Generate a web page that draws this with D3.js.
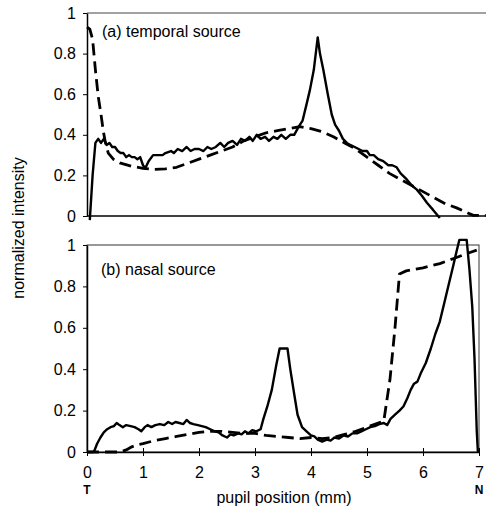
<!DOCTYPE html>
<html>
<head>
<meta charset="utf-8">
<script src="https://cdn.jsdelivr.net/npm/d3@7"></script>
<style>
  body { margin: 0; background: #fff; }
  text { font-family: "Liberation Sans", Arial, sans-serif; fill: #000; }
</style>
</head>
<body>
<svg id="chart" width="486" height="510"></svg>
<script>
// pupil position (mm), normalized intensity pairs
const topSolid = [
  [0.05, -0.02], [0.1, 0.2], [0.15, 0.36], [0.2, 0.38], [0.25, 0.36], [0.3, 0.38], [0.35, 0.35],
  [0.4, 0.36], [0.45, 0.34], [0.5, 0.34], [0.55, 0.32], [0.6, 0.31], [0.65, 0.31], [0.7, 0.29],
  [0.75, 0.3], [0.8, 0.29], [0.85, 0.29], [0.9, 0.28], [0.95, 0.29], [1.0, 0.25], [1.04, 0.235],
  [1.1, 0.27], [1.18, 0.3], [1.25, 0.3], [1.35, 0.3], [1.4, 0.31], [1.5, 0.32], [1.55, 0.31],
  [1.62, 0.33], [1.7, 0.32], [1.78, 0.34], [1.85, 0.32], [1.92, 0.33], [2.0, 0.33], [2.08, 0.32],
  [2.15, 0.34], [2.22, 0.33], [2.3, 0.34], [2.38, 0.36], [2.45, 0.34], [2.52, 0.36], [2.6, 0.37],
  [2.68, 0.35], [2.75, 0.38], [2.82, 0.37], [2.9, 0.39], [2.96, 0.37], [3.03, 0.4], [3.1, 0.38],
  [3.18, 0.39], [3.25, 0.37], [3.33, 0.39], [3.4, 0.38], [3.47, 0.4], [3.55, 0.38], [3.63, 0.4],
  [3.7, 0.4], [3.78, 0.44], [3.85, 0.47], [3.92, 0.55], [3.98, 0.62], [4.05, 0.72], [4.12, 0.88],
  [4.16, 0.8], [4.22, 0.72], [4.3, 0.6], [4.37, 0.5], [4.43, 0.45], [4.5, 0.42], [4.57, 0.38],
  [4.64, 0.36], [4.7, 0.35], [4.78, 0.34], [4.85, 0.33], [4.92, 0.32], [5.0, 0.32], [5.05, 0.3],
  [5.12, 0.3], [5.2, 0.28], [5.29, 0.27], [5.38, 0.25], [5.45, 0.25], [5.53, 0.24], [5.6, 0.21],
  [5.71, 0.18], [5.8, 0.15], [5.89, 0.13], [5.98, 0.1], [6.07, 0.065], [6.18, 0.03], [6.3, -0.01]
];
const topDashed = [
  [0, 0.93], [0.05, 0.92], [0.1, 0.87], [0.15, 0.72], [0.2, 0.59], [0.25, 0.5], [0.29, 0.42],
  [0.33, 0.36], [0.38, 0.31], [0.47, 0.28], [0.6, 0.26], [0.8, 0.245], [1.0, 0.235], [1.2, 0.23],
  [1.4, 0.232], [1.6, 0.24], [1.8, 0.26], [2.0, 0.28], [2.2, 0.3], [2.4, 0.32], [2.6, 0.34],
  [2.8, 0.37], [3.0, 0.39], [3.2, 0.41], [3.4, 0.42], [3.6, 0.43], [3.8, 0.44], [4.0, 0.43],
  [4.2, 0.415], [4.4, 0.39], [4.6, 0.36], [4.8, 0.33], [5.0, 0.29], [5.2, 0.25], [5.4, 0.21],
  [5.6, 0.18], [5.8, 0.15], [6.0, 0.12], [6.2, 0.09], [6.4, 0.06], [6.6, 0.04], [6.8, 0.015],
  [6.9, 0.003], [7.12, 0.003]
];
const bottomSolid = [
  [0, 0], [0.1, 0], [0.13, 0.005], [0.18, 0.04], [0.24, 0.07], [0.3, 0.095], [0.36, 0.11],
  [0.42, 0.12], [0.48, 0.125], [0.53, 0.14], [0.58, 0.13], [0.64, 0.12], [0.7, 0.13], [0.78, 0.125],
  [0.85, 0.12], [0.92, 0.11], [0.97, 0.1], [1.03, 0.12], [1.08, 0.13], [1.15, 0.12], [1.22, 0.13],
  [1.3, 0.135], [1.38, 0.13], [1.45, 0.145], [1.52, 0.135], [1.58, 0.145], [1.65, 0.14],
  [1.72, 0.135], [1.78, 0.155], [1.84, 0.14], [1.9, 0.135], [1.98, 0.13], [2.05, 0.125],
  [2.12, 0.12], [2.2, 0.11], [2.28, 0.1], [2.35, 0.095], [2.42, 0.08], [2.5, 0.07], [2.56, 0.085],
  [2.62, 0.08], [2.7, 0.09], [2.76, 0.085], [2.82, 0.1], [2.88, 0.09], [2.95, 0.105], [3.02, 0.1],
  [3.1, 0.11], [3.15, 0.16], [3.22, 0.22], [3.3, 0.3], [3.38, 0.42], [3.44, 0.5], [3.58, 0.5],
  [3.63, 0.4], [3.7, 0.28], [3.76, 0.18], [3.84, 0.12], [3.92, 0.1], [4.0, 0.08], [4.06, 0.075],
  [4.12, 0.06], [4.2, 0.05], [4.28, 0.06], [4.35, 0.055], [4.42, 0.07], [4.5, 0.065], [4.58, 0.08],
  [4.66, 0.075], [4.74, 0.09], [4.82, 0.09], [4.9, 0.1], [4.98, 0.11], [5.06, 0.12], [5.14, 0.125],
  [5.22, 0.135], [5.3, 0.14], [5.36, 0.13], [5.42, 0.16], [5.5, 0.18], [5.58, 0.2], [5.65, 0.22],
  [5.72, 0.26], [5.78, 0.3], [5.84, 0.33], [5.9, 0.34], [5.96, 0.38], [6.05, 0.43], [6.14, 0.5],
  [6.22, 0.57], [6.3, 0.63], [6.38, 0.72], [6.46, 0.81], [6.54, 0.9], [6.6, 0.97], [6.65, 1.025],
  [6.78, 1.025], [6.83, 0.88], [6.88, 0.7], [6.92, 0.45], [6.96, 0.1], [6.98, 0]
];
const bottomDashed = [
  [0, 0], [0.6, 0], [0.7, 0.01], [0.8, 0.025], [0.9, 0.035], [1.0, 0.04], [1.2, 0.055],
  [1.4, 0.065], [1.6, 0.075], [1.8, 0.085], [2.0, 0.095], [2.2, 0.1], [2.4, 0.1], [2.6, 0.095],
  [2.8, 0.09], [3.0, 0.09], [3.2, 0.08], [3.4, 0.075], [3.6, 0.07], [3.8, 0.065], [4.0, 0.07],
  [4.2, 0.065], [4.4, 0.07], [4.6, 0.085], [4.8, 0.1], [5.0, 0.12], [5.2, 0.14], [5.3, 0.15],
  [5.41, 0.35], [5.5, 0.6], [5.58, 0.86], [5.7, 0.875], [6.0, 0.89], [6.3, 0.91], [6.55, 0.935],
  [6.8, 0.96], [6.96, 0.975]
];
const xTicks = [0, 1, 2, 3, 4, 5, 6, 7];
const yTicks = [0, 0.2, 0.4, 0.6, 0.8, 1];
const panelLabels = ['(a) temporal source', '(b) nasal source'];
const endLabels = ['T', 'N'];

const svg = d3.select('#chart');

// shared x scale, one y scale per panel
const x = d3.scaleLinear().domain([0, 7]).range([87, 479]);
const yTop = d3.scaleLinear().domain([0, 1]).range([216, 13]);
const yBottom = d3.scaleLinear().domain([0, 1]).range([452, 245]);

const yAxis = y => d3.axisLeft(y)
  .tickValues(yTicks)
  .tickFormat(d => String(d))
  .tickSizeInner(4)
  .tickSizeOuter(0)
  .tickPadding(7);

function styleAxis(g) {
  g.select('.domain').attr('stroke', '#000').attr('stroke-width', 1.5);
  g.selectAll('.tick line').attr('stroke', '#000').attr('stroke-width', 1);
  g.selectAll('.tick text').style('font-size', '16px').attr('fill', '#000');
}

// ---- top panel
svg.append('line')
  .attr('x1', x(0)).attr('x2', 486)
  .attr('y1', yTop(1)).attr('y2', yTop(1))
  .attr('stroke', '#444').attr('stroke-width', 1);
svg.append('line')
  .attr('x1', x(0)).attr('x2', 486)
  .attr('y1', yTop(0)).attr('y2', yTop(0))
  .attr('stroke', '#000').attr('stroke-width', 1.5);
svg.append('g')
  .attr('transform', `translate(${x(0)},0)`)
  .call(yAxis(yTop))
  .call(styleAxis);

// ---- bottom panel
svg.append('rect')
  .attr('x', x(0)).attr('y', yBottom(1))
  .attr('width', x(7) - x(0)).attr('height', yBottom(0) - yBottom(1))
  .attr('fill', 'none').attr('stroke', '#333').attr('stroke-width', 1);
svg.append('g')
  .attr('transform', `translate(${x(0)},0)`)
  .call(yAxis(yBottom))
  .call(styleAxis);

const xAxis = svg.append('g')
  .attr('transform', `translate(0,${yBottom(0)})`)
  .call(d3.axisBottom(x).tickValues(xTicks).tickFormat(d => String(d))
    .tickSizeInner(4).tickSizeOuter(0).tickPadding(11));
styleAxis(xAxis);
// ticks cross the axis line
xAxis.selectAll('.tick line').attr('y1', -4).attr('y2', 4);

svg.selectAll('.end-label')
  .data(endLabels)
  .enter()
  .append('text')
  .attr('class', 'end-label')
  .attr('x', (d, i) => x(i === 0 ? 0 : 7))
  .attr('y', 494)
  .attr('text-anchor', 'middle')
  .style('font-size', '12px')
  .style('font-weight', 'bold')
  .text(d => d);

// ---- curves
const lineTop = d3.line().x(d => x(d[0])).y(d => yTop(d[1]));
const lineBottom = d3.line().x(d => x(d[0])).y(d => yBottom(d[1]));

const curves = [
  { data: topDashed, line: lineTop, dash: '12,6', width: 2.8 },
  { data: topSolid, line: lineTop, dash: null, width: 2.4 },
  { data: bottomDashed, line: lineBottom, dash: '12,6', width: 2.8 },
  { data: bottomSolid, line: lineBottom, dash: null, width: 2.4 }
];

svg.selectAll('.curve')
  .data(curves)
  .enter()
  .append('path')
  .attr('class', 'curve')
  .attr('d', d => d.line(d.data))
  .attr('fill', 'none')
  .attr('stroke', '#000')
  .attr('stroke-width', d => d.width)
  .attr('stroke-linejoin', 'round')
  .attr('stroke-dasharray', d => d.dash);

// ---- labels
svg.selectAll('.panel-label')
  .data(panelLabels)
  .enter()
  .append('text')
  .attr('class', 'panel-label')
  .attr('x', (d, i) => i === 0 ? 102 : 101)
  .attr('y', (d, i) => i === 0 ? 37 : 275)
  .style('font-size', '16px')
  .text(d => d);

svg.append('text')
  .attr('transform', 'translate(24,228) rotate(-90)')
  .attr('text-anchor', 'middle')
  .style('font-size', '16px')
  .text('normalized intensity');

svg.append('text')
  .attr('x', 284)
  .attr('y', 503)
  .attr('text-anchor', 'middle')
  .style('font-size', '16px')
  .text('pupil position (mm)');
</script>
</body>
</html>
